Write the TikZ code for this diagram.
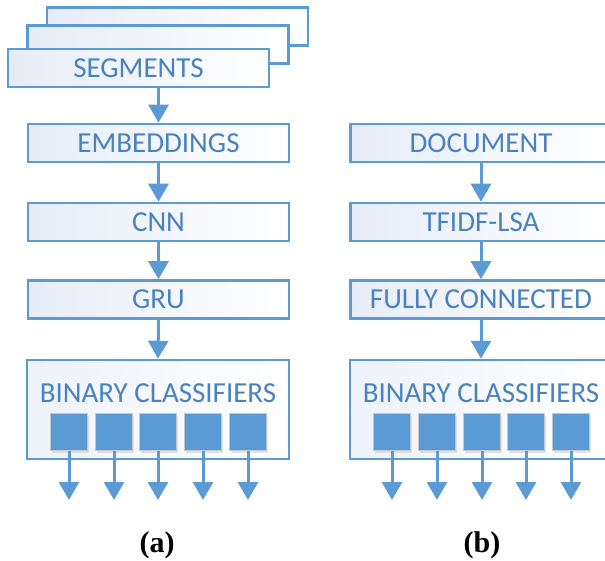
\documentclass[tikz,border=0pt]{standalone}
\usepackage{fontspec}
\setmainfont{Carlito}
\newfontfamily\capfont{Liberation Serif}
\usetikzlibrary{arrows.meta,shadows}
\definecolor{lineblue}{HTML}{5B9BD5}
\definecolor{textblue}{HTML}{4A82C0}
\definecolor{paleblue}{HTML}{E6ECF7}
\definecolor{sqedge}{HTML}{C4C9D0}
\tikzset{
  stepbox/.style={draw=lineblue, line width=2.5pt, minimum width=261pt, minimum height=38pt,
    left color=paleblue, right color=white, text=textblue, font=\fontsize{29}{32}\selectfont, inner sep=0pt},
  bigbox/.style={draw=lineblue, line width=2.5pt, minimum width=262pt, minimum height=99pt,
    left color=paleblue!70, right color=white, inner sep=0pt},
  bigtext/.style={text=textblue, font=\fontsize{29}{32}\selectfont, inner sep=0pt},
  clf/.style={fill=lineblue, draw=sqedge, line width=1pt, minimum size=37pt, inner sep=0pt,
    drop shadow={opacity=0.2, shadow xshift=1.5pt, shadow yshift=-2pt}},
  flow/.style={draw=lineblue, line width=3pt, -{Triangle[width=20pt,length=18pt]}},
  caplabel/.style={font=\capfont\bfseries\fontsize{30}{33}\selectfont, text=black}
}
\begin{document}
\begin{tikzpicture}[x=1pt,y=-1pt]
\useasboundingbox (0,0) rectangle (605,561);
\clip (0,0) rectangle (605,561);
% ---------- (a) ----------
\node[stepbox] (seg3) at (177.5,26.5) {};
\node[stepbox] (seg2) at (158,44.5) {};
\node[stepbox] (seg) at (138.5,68) {SEGMENTS};
\node[stepbox] (emb) at (158.5,143) {EMBEDDINGS};
\node[stepbox] (cnn) at (158.5,222) {CNN};
\node[stepbox] (gru) at (158.5,299.5) {GRU};
\node[bigbox] (binA) at (158,409.5) {};
\node[bigtext] (binAt) at (158,393) {BINARY CLASSIFIERS};
\foreach \i/\x in {1/69,2/114,3/158,4/203,5/248}{
  \node[clf] (a\i) at (\x,432) {};
  \coordinate (ao\i) at (\x,500);
}
\draw[flow] (seg.south -| emb.north) -- (emb.north);
\draw[flow] (emb) -- (cnn);
\draw[flow] (cnn) -- (gru);
\draw[flow] (gru.south) -- (binA.north);
\foreach \i in {1,...,5}{ \draw[flow] (a\i.south) -- (ao\i); }
\node[caplabel] (capA) at (157,545) {(a)};
% ---------- (b) ----------
\node[stepbox] (doc) at (481,143) {DOCUMENT};
\node[stepbox] (tfidf) at (481,222) {TFIDF-LSA};
\node[stepbox] (fc) at (481,299.5) {FULLY CONNECTED};
\node[bigbox] (binB) at (481,409.5) {};
\node[bigtext] (binBt) at (481,393) {BINARY CLASSIFIERS};
\foreach \i/\x in {1/392,2/437,3/482,4/526,5/571}{
  \node[clf] (b\i) at (\x,432) {};
  \coordinate (bo\i) at (\x,500);
}
\draw[flow] (doc) -- (tfidf);
\draw[flow] (tfidf) -- (fc);
\draw[flow] (fc.south) -- (binB.north);
\foreach \i in {1,...,5}{ \draw[flow] (b\i.south) -- (bo\i); }
\node[caplabel] (capB) at (482,545) {(b)};
\end{tikzpicture}
\end{document}
